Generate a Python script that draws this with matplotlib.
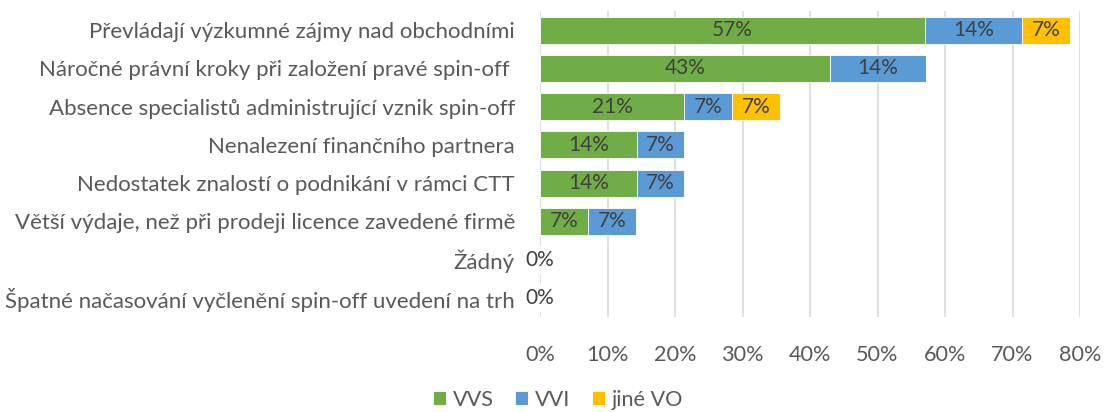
import matplotlib
matplotlib.use("Agg")
import matplotlib.pyplot as plt
import numpy as np

plt.rcParams['font.family'] = ['Lato', 'DejaVu Sans']

# data (shares of respondents)
categories = [
    'Převládají výzkumné zájmy nad obchodními',
    'Náročné právní kroky při založení pravé spin-off ',
    'Absence specialistů administrující vznik spin-off',
    'Nenalezení finančního partnera',
    'Nedostatek znalostí o podnikání v rámci CTT',
    'Větší výdaje, než při prodeji licence zavedené firmě',
    'Žádný',
    'Špatné načasování vyčlenění spin-off uvedení na trh',
]
vvs = [0.571, 0.429, 0.214, 0.143, 0.143, 0.071, 0.0, 0.0]
vvi = [0.143, 0.143, 0.071, 0.071, 0.071, 0.071, 0.0, 0.0]
jine_vo = [0.071, 0.0, 0.071, 0.0, 0.0, 0.0, 0.0, 0.0]
series_names = ['VVS', 'VVI', 'jiné VO']
colors = ['#70AD47', '#5B9BD5', '#FFC000']

fig = plt.figure(figsize=(11.12, 4.12), dpi=100)
ax = fig.add_axes([540/1112, 1 - 317/412, 540/1112, 306/412])

y = np.arange(len(categories))
left = np.zeros(len(categories))
for i, (vals, name, col) in enumerate(zip([vvs, vvi, jine_vo], series_names, colors)):
    vals = np.array(vals)
    ax.barh(y, vals, left=left, height=0.7, color=col, label=name,
            edgecolor='white', linewidth=0.6, zorder=3)
    for yy, l, v in zip(y, left, vals):
        if v > 0 or i == 0:
            ax.text(l + v / 2, yy, f'{v*100:.0f}%', ha='center', va='center',
                    fontsize=15, color='#404040', zorder=4)
    left += vals

ax.set_xlim(0, 0.8)
ax.set_ylim(len(categories) - 0.5, -0.5)
ax.set_xticks(np.arange(0, 0.81, 0.1))
ax.set_xticklabels([f'{t*100:.0f}%' for t in np.arange(0, 0.81, 0.1)])
ax.set_yticks(y)
ax.set_yticklabels(categories)
ax.tick_params(axis='both', length=0, labelsize=15.6, colors='#595959')
ax.tick_params(axis='y', labelsize=16)
ax.tick_params(axis='x', pad=20)
ax.tick_params(axis='y', pad=18)
ax.grid(axis='x', color='#D9D9D9', linewidth=1.2, zorder=0)
for s in ax.spines.values():
    s.set_visible(False)

fig.legend(loc='center', bbox_to_anchor=(558/1112, 1 - 400/412), ncol=3,
           frameon=False, fontsize=15.6, handlelength=0.6, handleheight=0.6,
           handletextpad=0.3, columnspacing=1.0, labelcolor='#595959')

fig.savefig('out.png', dpi=100)
